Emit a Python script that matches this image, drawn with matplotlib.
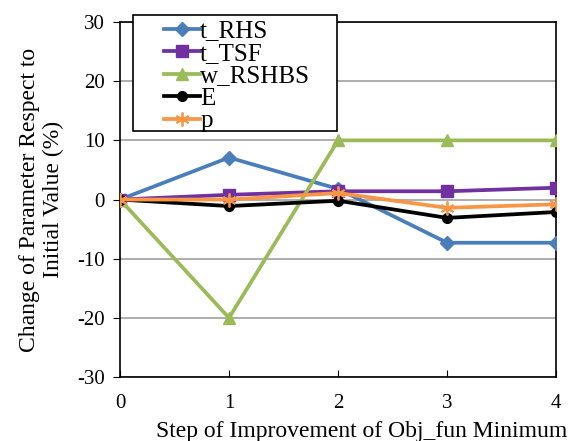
import matplotlib
matplotlib.use("Agg")
import matplotlib.pyplot as plt
from matplotlib.patches import Rectangle

steps = [0, 1, 2, 3, 4]
t_RHS = [0, 7.1, 1.8, -7.3, -7.3]
t_TSF = [0, 0.8, 1.4, 1.4, 2.0]
w_RSHBS = [0, -20, 10, 10, 10]
E = [0, -1.1, -0.2, -3.1, -2.1]
p = [0, 0, 1.1, -1.4, -0.8]
yticks = [-30, -20, -10, 0, 10, 20, 30]

plt.rcParams['font.family'] = ['Liberation Serif', 'DejaVu Serif']
plt.rcParams['axes.unicode_minus'] = False
fig = plt.figure(figsize=(5.74, 4.41), dpi=100)
ax = fig.add_axes([0.209, 0.145, 0.76, 0.805])

lw = 2.7
ax.plot(steps, t_RHS, color='#4A7EBB', marker='D', ms=7, lw=lw, label='t_RHS', zorder=3)
ax.plot(steps, t_TSF, color='#7030A0', marker='s', ms=8, lw=lw, label='t_TSF', zorder=3)
ax.plot(steps, w_RSHBS, color='#9BBB59', marker='^', ms=9, lw=lw, label='w_RSHBS', zorder=3)
ax.plot(steps, E, color='black', marker='o', ms=7, lw=lw, label='E', zorder=3)
ax.plot(steps, p, color='#F79646', marker=(6, 2, 0), ms=10, mew=1.3, lw=lw, label='p', zorder=4)

ax.set_xlim(0, 4)
ax.set_ylim(-30, 30)
ax.set_yticks(yticks)
ax.set_xticks(steps)
ax.yaxis.grid(True, color='#A0A0A0', lw=1.2)
ax.set_axisbelow(True)
ax.tick_params(axis='y', direction='out', labelsize=15, length=5, pad=6)
ax.tick_params(axis='x', direction='in', labelsize=15, length=5, pad=12)
for s in ax.spines.values():
    s.set_linewidth(1.2)

ax.set_xlabel('Step of Improvement of Obj_fun Minimum', fontsize=17, labelpad=6, x=0.555)
ax.set_ylabel('Change of Parameter Respect to\nInitial Value (%)', fontsize=17, labelpad=9,
              linespacing=1.2)

# legend frame (white box)
frame = Rectangle((133 / 574, 1 - 131 / 441), 204 / 574, 116 / 441,
                  transform=fig.transFigure, facecolor='white', edgecolor='black',
                  lw=1.2, zorder=10)
fig.add_artist(frame)

leg = fig.legend(*ax.get_legend_handles_labels(), loc='upper left',
                 bbox_to_anchor=(164 / 574, 1 - 20 / 441), bbox_transform=fig.transFigure,
                 fontsize=18, frameon=False, handlelength=1.45, borderpad=0,
                 labelspacing=0.0, handletextpad=0.0, borderaxespad=0)
leg.set_zorder(11)

fig.savefig('out.png', dpi=100)
